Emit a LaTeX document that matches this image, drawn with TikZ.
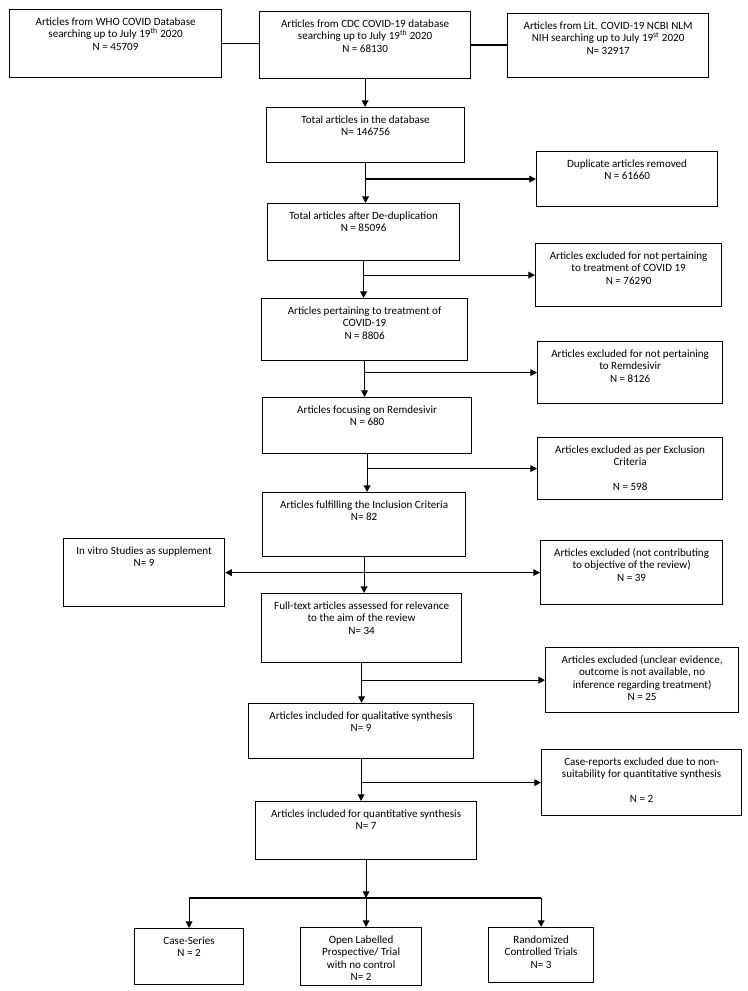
\documentclass[tikz,border=0pt]{standalone}
\usepackage{fontspec}
\setmainfont{Carlito}
\usepackage{tikz}
\usetikzlibrary{arrows.meta}

% box text: width and height in px, text on top
\newcommand{\boxtxt}[3]{\begin{minipage}[t][\dimexpr#2pt*3/4\relax][t]{\dimexpr#1pt*3/4\relax}\centering\fontsize{8.3pt}{9.4pt}\selectfont\rule{0pt}{11.6pt}#3\end{minipage}}

\begin{document}
\begin{tikzpicture}[x=0.75pt, y=-0.75pt,
  box/.style={draw, line width=0.9pt, inner sep=0pt, anchor=north west},
  arr/.style={line width=0.9pt, -{Triangle[length=5pt,width=5pt]}},
  link/.style={line width=0.9pt}]
\useasboundingbox (0,0) rectangle (748,991);
% sources
\node[box] (who) at (9,9) {\boxtxt{212}{68}{Articles from WHO COVID Database\\searching up to July 19\textsuperscript{th} 2020\\N = 45709}};
\node[box] (cdc) at (259,11) {\boxtxt{211}{67}{Articles from CDC COVID-19 database\\searching up to July 19\textsuperscript{th} 2020\\N = 68130}};
\node[box] (lit) at (507,13) {\boxtxt{201}{64}{Articles from Lit. COVID-19 NCBI NLM\\NIH searching up to July 19\textsuperscript{st} 2020\\N= 32917}};
% main column
\node[box] (total) at (266,107) {\boxtxt{198}{55}{Total articles in the database\\N= 146756}};
\node[box] (dedup) at (267,203) {\boxtxt{192}{57}{Total articles after De-duplication\\N = 85096}};
\node[box] (pert) at (261,298) {\boxtxt{206}{62}{Articles pertaining to treatment of\\COVID-19\\N = 8806}};
\node[box] (remd) at (262,397) {\boxtxt{209}{56}{Articles focusing on Remdesivir\\N = 680}};
\node[box] (incl) at (262,492) {\boxtxt{203}{64}{Articles fulfilling the Inclusion Criteria\\N= 82}};
\node[box] (full) at (261,593) {\boxtxt{200}{69}{Full-text articles assessed for relevance\\to the aim of the review\\N= 34}};
\node[box] (qual) at (248,703) {\boxtxt{225}{55}{Articles included for qualitative synthesis\\N= 9}};
\node[box] (quant) at (255,801) {\boxtxt{221}{58}{Articles included for quantitative synthesis\\N= 7}};
% exclusions
\node[box] (dup) at (536,151) {\boxtxt{181}{55}{Duplicate articles removed\\N = 61660}};
\node[box] (exc1) at (535,243) {\boxtxt{186}{63}{Articles excluded for not pertaining\\to treatment of COVID 19\\N = 76290}};
\node[box] (exc2) at (537,341) {\boxtxt{185}{62}{Articles excluded for not pertaining\\to Remdesivir\\N = 8126}};
\node[box] (exc3) at (537,437) {\boxtxt{185}{62}{Articles excluded as per Exclusion\\Criteria\\[\baselineskip]N = 598}};
\node[box] (exc4) at (540,540) {\boxtxt{182}{64}{Articles excluded (not contributing\\to objective of the review)\\N = 39}};
\node[box] (vitro) at (63,538) {\boxtxt{161}{68}{In vitro Studies as supplement\\N= 9}};
\node[box] (exc5) at (545,647) {\boxtxt{193}{65}{Articles excluded (unclear evidence,\\outcome is not available, no\\inference regarding treatment)\\N = 25}};
\node[box] (exc6) at (541,749) {\boxtxt{200}{66}{Case-reports excluded due to non-\\suitability for quantitative synthesis\\[\baselineskip]N = 2}};
% study types
\node[box] (cases) at (134,928) {\boxtxt{109}{56}{Case-Series\\N = 2}};
\node[box] (open) at (300,927) {\boxtxt{121}{58}{Open Labelled\\Prospective/ Trial\\with no control\\N= 2}};
\node[box] (rct) at (488,927) {\boxtxt{105}{55}{Randomized\\Controlled Trials\\N= 3}};

% connectors
\draw[link] (who.east) -- (who.east -| cdc.west);
\draw[link] (cdc.east) -- (cdc.east -| lit.west);
\draw[arr] (cdc.south) -- (cdc.south |- total.north);
\foreach \a/\b/\c in {total/dedup/dup, dedup/pert/exc1, pert/remd/exc2, remd/incl/exc3, full/qual/exc5, qual/quant/exc6} {
  \draw[arr] (\a.south) -- (\a.south |- \b.north);
  \draw[arr] (\a.south |- \c.west) -- (\c.west);
}
\draw[arr] (incl.south) -- (incl.south |- full.north);
\draw[arr] (incl.south |- exc4.west) -- (exc4.west);
\draw[arr] (incl.south |- vitro.east) -- (vitro.east);
\coordinate (split) at (quant.south |- 0,898);
\draw[arr] (quant.south) -- (split);
\draw[link] (split -| cases.north) -- (split -| rct.north);
\draw[arr] (split -| cases.north) -- (cases.north);
\draw[arr] (split) -- (split |- open.north);
\draw[arr] (split -| rct.north) -- (rct.north);
\end{tikzpicture}
\end{document}
